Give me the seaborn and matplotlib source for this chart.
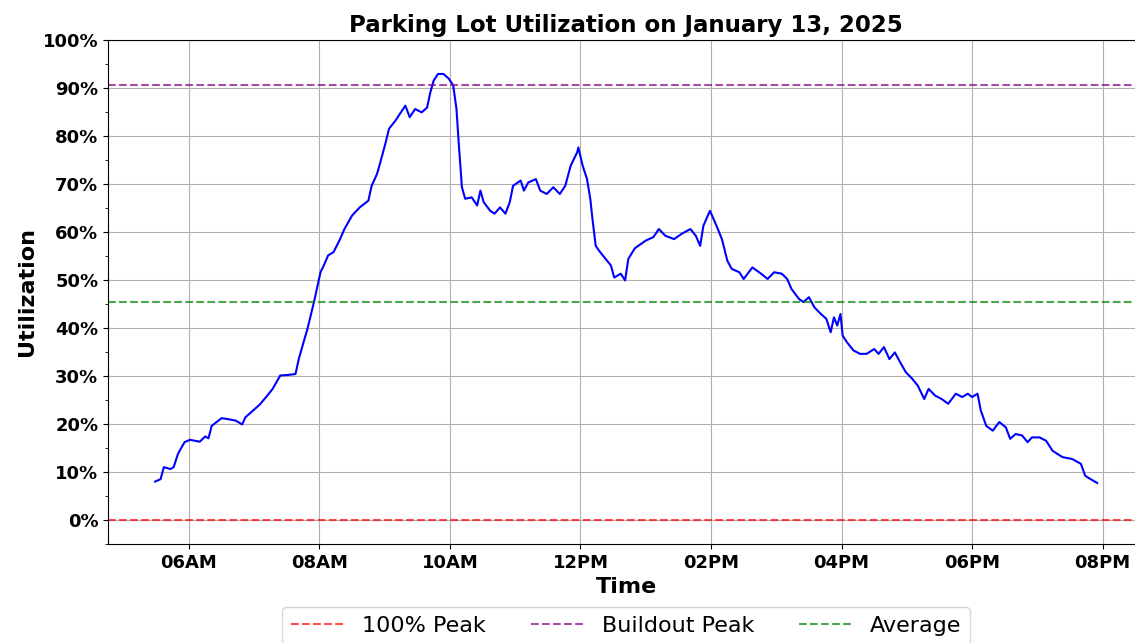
import matplotlib

matplotlib.use("Agg")
import matplotlib.dates as mdates
import matplotlib.pyplot as plt
import pandas as pd
import seaborn as sns
from matplotlib.ticker import MultipleLocator, PercentFormatter

###############
# PLOT CONFIG #
###############
DATE = "2025-01-13"
TITLE = "Parking Lot Utilization on January 13, 2025"
TITLE_FONT_SIZE = 16.5
LABEL_FONT_SIZE = 16
TICK_FONT_SIZE = 13
LEGEND_FONT_SIZE = 16

# reference levels (% of capacity)
PEAK_100 = 0.0
BUILDOUT_PEAK = 90.6
AVERAGE = 45.3

# utilization readings over the day (time of day, % utilization)
times = [
    "05:29", "05:34", "05:37", "05:43", "05:46", "05:50", "05:56", "06:01",
    "06:10", "06:15", "06:18", "06:21", "06:30", "06:36", "06:43", "06:49",
    "06:52", "06:59", "07:05", "07:11", "07:17", "07:24", "07:31", "07:38",
    "07:41", "07:45", "07:49", "07:52", "07:55", "07:58", "08:01", "08:04",
    "08:08", "08:13", "08:19", "08:23", "08:30", "08:37", "08:45", "08:48",
    "08:53", "08:56", "09:01", "09:04", "09:10", "09:14", "09:19", "09:23",
    "09:28", "09:34", "09:39", "09:42", "09:45", "09:49", "09:54", "09:59",
    "10:03", "10:06", "10:08", "10:10", "10:11", "10:14", "10:20", "10:25",
    "10:28", "10:31", "10:37", "10:41", "10:46", "10:51", "10:55", "10:58",
    "11:05", "11:08", "11:12", "11:19", "11:23", "11:29", "11:35", "11:41",
    "11:46", "11:51", "11:57", "11:58", "12:02", "12:06", "12:09", "12:11",
    "12:14", "12:18", "12:23", "12:28", "12:31", "12:37", "12:41", "12:44",
    "12:50", "13:00", "13:07", "13:12", "13:18", "13:26", "13:33", "13:41",
    "13:46", "13:50", "13:53", "13:59", "14:05", "14:10", "14:15", "14:19",
    "14:26", "14:30", "14:38", "14:46", "14:52", "14:58", "15:05", "15:10",
    "15:14", "15:21", "15:25", "15:30", "15:35", "15:41", "15:46", "15:50",
    "15:53", "15:56", "15:59", "16:01", "16:05", "16:11", "16:17", "16:23",
    "16:30", "16:34", "16:39", "16:44", "16:49", "16:53", "16:59", "17:05",
    "17:10", "17:16", "17:20", "17:26", "17:32", "17:38", "17:45", "17:51",
    "17:56", "18:00", "18:05", "18:08", "18:13", "18:19", "18:25", "18:31",
    "18:35", "18:40", "18:46", "18:51", "18:55", "19:02", "19:08", "19:14",
    "19:23", "19:32", "19:40", "19:44", "19:49", "19:55",
]
utilization = [
    8.0, 8.5, 11.0, 10.6, 11.0, 13.8, 16.2, 16.7,
    16.3, 17.4, 17.0, 19.6, 21.2, 21.0, 20.7, 19.9,
    21.4, 22.8, 24.0, 25.6, 27.3, 30.1, 30.2, 30.4,
    33.5, 36.7, 39.8, 42.6, 45.4, 48.5, 51.6, 53.0,
    55.1, 55.8, 58.5, 60.6, 63.4, 65.1, 66.5, 69.6,
    72.1, 74.5, 78.7, 81.5, 83.2, 84.6, 86.3, 83.9,
    85.6, 84.9, 85.9, 89.1, 91.5, 92.9, 92.9, 91.9,
    90.5, 85.6, 78.7, 72.4, 69.3, 66.9, 67.2, 65.5,
    68.6, 66.2, 64.4, 63.8, 65.1, 63.8, 66.2, 69.6,
    70.7, 68.6, 70.3, 71.0, 68.6, 67.9, 69.3, 67.9,
    69.6, 73.8, 76.6, 77.6, 73.8, 71.0, 66.9, 62.7,
    57.1, 55.8, 54.4, 53.0, 50.5, 51.3, 49.9, 54.4,
    56.6, 58.2, 58.9, 60.6, 59.2, 58.5, 59.6, 60.6,
    59.2, 57.1, 61.3, 64.4, 61.3, 58.5, 54.0, 52.3,
    51.6, 50.2, 52.6, 51.3, 50.2, 51.6, 51.3, 50.2,
    48.1, 46.0, 45.4, 46.4, 44.3, 42.9, 41.9, 39.1,
    42.2, 40.5, 42.9, 38.4, 37.0, 35.3, 34.6, 34.6,
    35.6, 34.6, 36.0, 33.5, 34.9, 33.2, 30.8, 29.4,
    28.0, 25.2, 27.3, 25.9, 25.2, 24.2, 26.3, 25.6,
    26.3, 25.6, 26.3, 22.8, 19.6, 18.6, 20.4, 19.3,
    16.9, 17.9, 17.6, 16.2, 17.2, 17.2, 16.5, 14.4,
    13.1, 12.7, 11.7, 9.2, 8.5, 7.7,
]

df = pd.DataFrame(
    {
        "Time": pd.to_datetime([f"{DATE} {t}" for t in times]),
        "Utilization": utilization,
    }
)

fig = plt.figure(figsize=(11.35, 6.43), dpi=100)
# axes run past the right edge, as in the (cropped) original
ax = fig.add_axes([0.0952, 0.154, 0.913, 0.784])

sns.lineplot(data=df, x="Time", y="Utilization", ax=ax, color="blue", lw=1.5)

ax.axhline(PEAK_100, color="red", linestyle="--", lw=1.5, alpha=0.7, label="100% Peak")
ax.axhline(BUILDOUT_PEAK, color="purple", linestyle="--", lw=1.5, alpha=0.7, label="Buildout Peak")
ax.axhline(AVERAGE, color="green", linestyle="--", lw=1.5, alpha=0.7, label="Average")

ax.set_ylim(-5, 100)
ax.yaxis.set_major_locator(MultipleLocator(10))
ax.yaxis.set_minor_locator(MultipleLocator(5))
ax.yaxis.set_major_formatter(PercentFormatter(xmax=100, decimals=0))
ax.xaxis.set_major_locator(mdates.HourLocator(byhour=range(0, 24, 2)))
ax.xaxis.set_major_formatter(mdates.DateFormatter("%I%p"))

ax.set_title(TITLE, fontsize=TITLE_FONT_SIZE, fontweight="bold")
ax.set_xlabel("Time", fontsize=LABEL_FONT_SIZE, fontweight="bold")
ax.set_ylabel("Utilization", fontsize=LABEL_FONT_SIZE, fontweight="bold")
for lbl in ax.get_xticklabels() + ax.get_yticklabels():
    lbl.set_fontsize(TICK_FONT_SIZE)
    lbl.set_fontweight("bold")
ax.grid(True)

ax.legend(
    fontsize=LEGEND_FONT_SIZE,
    loc="upper center",
    bbox_to_anchor=(0.5, -0.103),
    ncol=3,
    handlelength=2.4,
)

fig.savefig("out.png", dpi=100)
